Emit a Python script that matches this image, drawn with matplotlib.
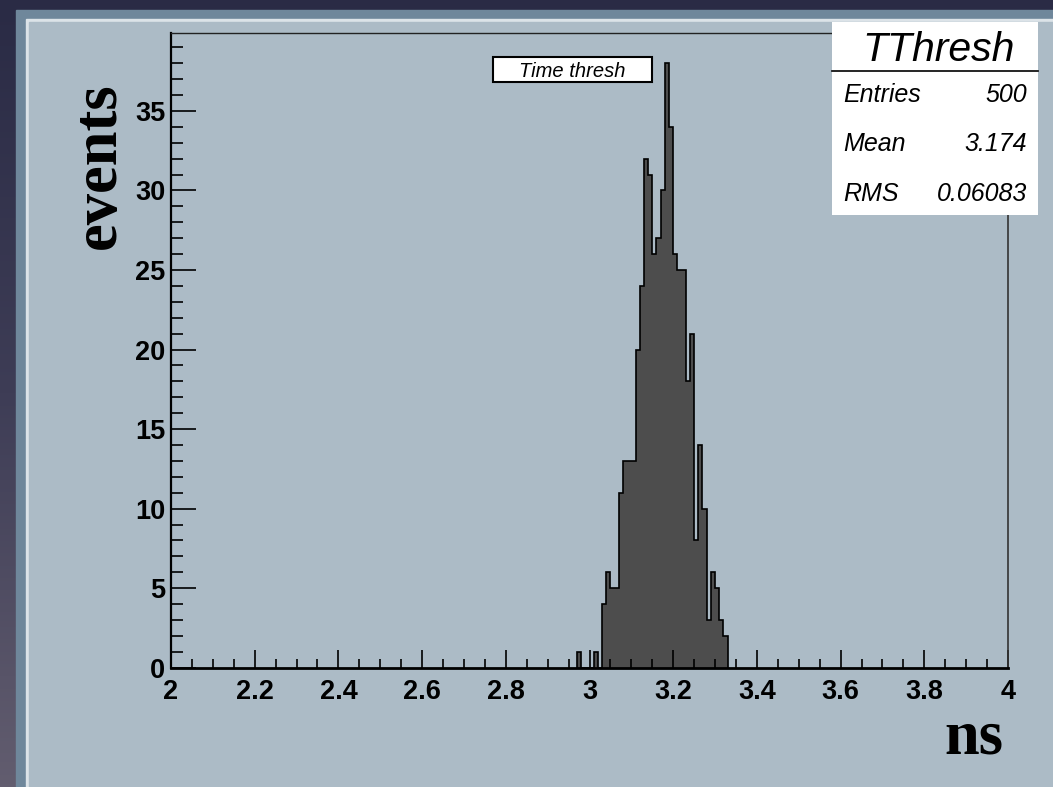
import matplotlib
matplotlib.use("Agg")
import matplotlib.pyplot as plt
import numpy as np
from matplotlib.patches import Rectangle
from matplotlib.colors import LinearSegmentedColormap
from matplotlib.ticker import MultipleLocator, FuncFormatter

# histogram TThresh: 0.01 ns bins starting at 2.97 ns
bin_start = 2.97
bin_width = 0.01
counts = [1, 0, 0, 0, 1, 0, 4, 6, 5, 5, 11, 13, 13, 13, 20, 24, 32, 31, 26, 27,
          30, 38, 34, 26, 25, 25, 18, 21, 8, 14, 10, 3, 6, 5, 3, 2]
stats_labels = ["Entries", "Mean", "RMS"]
stats_values = ["500", "3.174", "0.06083"]
hist_name = "TThresh"
title = "Time thresh"

W, H = 1053, 787
plt.rcParams['font.family'] = ['Liberation Sans', 'DejaVu Sans']

fig = plt.figure(figsize=(W / 100, H / 100), dpi=100)


def fx(px):
    return px / W


def fy(py):
    return (H - py) / H


# slide background
bg = fig.add_axes([0, 0, 1, 1], zorder=-20)
cmap = LinearSegmentedColormap.from_list("bg", ["#2a2b45", "#3e3d56", "#625d6f"])
bg.imshow(np.linspace(0, 1, 256).reshape(-1, 1), cmap=cmap, aspect='auto',
          extent=[0, 1, 0, 1])
bg.axis('off')

fig.add_artist(Rectangle((fx(16), 0), 1 - fx(16), fy(10), color='#6f879b', zorder=-10))
fig.add_artist(Rectangle((fx(26), 0), 1 - fx(26), fy(19), color='#dce3e8', zorder=-9))
fig.add_artist(Rectangle((fx(29), 0), 1 - fx(29), fy(22), color='#acbbc6', zorder=-8))

ax = fig.add_axes([fx(171), fy(667.7), fx(1008) - fx(171), fy(33) - fy(667.7)])
ax.patch.set_alpha(0)

edges = bin_start + bin_width * np.arange(len(counts) + 1)
ax.stairs(counts, edges, fill=True, color='#4d4d4d')
ax.stairs(counts, edges, color='black', lw=1.2)

ax.set_xlim(2, 4)
ax.set_ylim(0, 39.9)
ax.xaxis.set_major_locator(MultipleLocator(0.2))
ax.xaxis.set_minor_locator(MultipleLocator(0.05))
ax.yaxis.set_major_locator(MultipleLocator(5))
ax.yaxis.set_minor_locator(MultipleLocator(1))
ax.xaxis.set_major_formatter(FuncFormatter(lambda v, p: f"{v:g}"))
ax.yaxis.set_major_formatter(FuncFormatter(lambda v, p: f"{v:g}"))

ax.tick_params(axis='y', which='major', direction='in', length=18, width=1.2, pad=4, labelsize=19.5)
ax.tick_params(axis='y', which='minor', direction='in', length=8.5, width=1.2)
ax.tick_params(axis='x', which='major', direction='in', length=13, width=1.2, pad=8, labelsize=19.5)
ax.tick_params(axis='x', which='minor', direction='in', length=6.5, width=1.2)
for lbl in ax.get_xticklabels() + ax.get_yticklabels():
    lbl.set_fontweight('bold')

ax.spines['left'].set_linewidth(1.6)
ax.spines['bottom'].set_linewidth(2.0)
ax.spines['top'].set_linewidth(1.0)
ax.spines['right'].set_linewidth(1.2)
ax.spines['top'].set_color('#222222')
ax.spines['right'].set_color('#333333')

# axis titles
fig.text(fx(115), fy(82), "events", rotation=90, rotation_mode='anchor',
         ha='right', va='baseline', fontsize=45, fontweight='bold',
         family=['Liberation Serif', 'DejaVu Serif'])
fig.text(fx(1003), fy(753.5), "ns", ha='right', va='baseline', fontsize=45,
         fontweight='bold', family=['Liberation Serif', 'DejaVu Serif'])

# title box
fig.add_artist(Rectangle((fx(493), fy(82.3)), fx(652) - fx(493), fy(57.3) - fy(82.3),
                         facecolor='white', edgecolor='black', lw=1.5, zorder=5))
fig.text(fx(572.5), fy(76.7), title, ha='center', va='baseline', fontsize=14.5,
         style='italic', zorder=6)

# stats box
fig.add_artist(Rectangle((fx(832), fy(215)), fx(1038) - fx(832), fy(22) - fy(215),
                         facecolor='white', edgecolor='none', zorder=5))
fig.add_artist(plt.Line2D([fx(832), fx(1038)], [fy(70.7), fy(70.7)], color='black',
                          lw=1.2, zorder=6))
fig.text(fx(939), fy(61), hist_name, ha='center', va='baseline', fontsize=29.5,
         style='italic', zorder=6)
for i, (lab, val) in enumerate(zip(stats_labels, stats_values)):
    yb = 101.7 + 49.5 * i
    fig.text(fx(843), fy(yb), lab, ha='left', va='baseline', fontsize=18,
             style='italic', zorder=6)
    fig.text(fx(1027), fy(yb), val, ha='right', va='baseline', fontsize=18,
             style='italic', zorder=6)

fig.savefig("out.png", dpi=100)
